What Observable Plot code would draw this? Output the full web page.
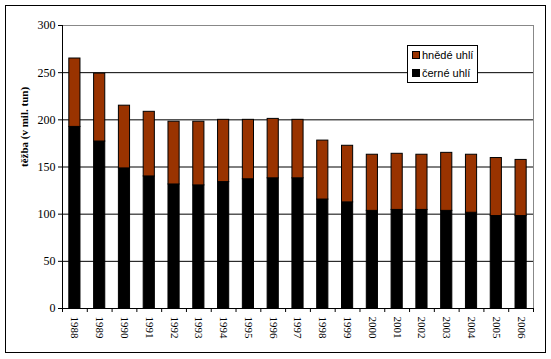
<!DOCTYPE html>
<html>
<head>
<meta charset="utf-8">
<script src="https://cdn.jsdelivr.net/npm/d3@7"></script>
<script src="https://cdn.jsdelivr.net/npm/@observablehq/plot@0.6"></script>
<style>
  body { margin: 0; background: #fff; }
  #wrap { position: relative; width: 551px; height: 359px; overflow: hidden; }
  #border { position: absolute; left: 5px; top: 5px; width: 539px; height: 346px; border: 1px solid #000; }
  #chart { position: absolute; left: 0; top: 0; }
  #legend { position: absolute; left: 407px; top: 45px; width: 69px; height: 36px; border: 1px solid #000; background: #fff;
            font-family: "Liberation Sans", Arial, sans-serif; font-size: 11px; color: #000; }
  .item { position: absolute; left: 4px; height: 14px; line-height: 14px; white-space: nowrap; }
  .sw { display: inline-block; width: 6px; height: 6px; border: 1px solid #000; margin-right: 2px; vertical-align: 0px; }
</style>
</head>
<body>
<div id="wrap">
  <div id="border"></div>
  <div id="chart"></div>
  <div id="legend"></div>
</div>
<script>
const years = ["1988","1989","1990","1991","1992","1993","1994","1995","1996","1997","1998","1999","2000","2001","2002","2003","2004","2005","2006"];
const cerneUhli = [192.5, 177, 148.5, 140, 131.5, 130.5, 134, 137, 138, 138, 115.5, 112.5, 103.5, 104.5, 104.5, 103.5, 101.5, 98, 98];
const hnedeUhli = [72.5, 72, 66.5, 68.5, 66.5, 67.5, 66, 63, 63, 62, 62.5, 60, 59.5, 59.5, 58.5, 61.5, 61.5, 61.5, 59.5];
const seriesNames = ["hnědé uhlí", "černé uhlí"];
const seriesColors = ["#993300", "#000000"];
const yTicks = [0, 50, 100, 150, 200, 250, 300];
const yTitle = "těžba (v mil. tun)";

const rows = [];
years.forEach((y, i) => {
  rows.push({year: y, series: seriesNames[1], value: cerneUhli[i]});
  rows.push({year: y, series: seriesNames[0], value: hnedeUhli[i]});
});

const W = 551, H = 359, ml = 62, mr = 18, mt = 25, mb = 51;
const pad = 0.55;
const step = (W - ml - mr) / years.length;
const extra = step * pad / 2;
const serif = "'Liberation Serif', 'Times New Roman', serif";

const chart = Plot.plot({
  width: W, height: H,
  marginLeft: ml, marginRight: mr, marginTop: mt, marginBottom: mb,
  style: {background: "transparent", fontFamily: serif, color: "#000"},
  x: {domain: years, padding: pad, round: false, insetLeft: -extra, insetRight: -extra, label: null},
  y: {domain: [0, 300], label: null},
  color: {domain: seriesNames, range: seriesColors},
  marks: [
    Plot.gridY(yTicks.filter(d => d > 0 && d < 300), {stroke: "#000", strokeOpacity: 1}),
    Plot.ruleY([300], {stroke: "#888"}),
    Plot.ruleX([years[years.length - 1]], {dx: step / 2, stroke: "#888"}),
    Plot.barY(rows, Plot.stackY({x: "year", y: "value", fill: "series", order: [seriesNames[1], seriesNames[0]], stroke: "#000", strokeWidth: 1})),
    Plot.ruleX([years[0]], {dx: -step / 2, stroke: "#000"}),
    Plot.ruleY([0], {stroke: "#000"}),
    Plot.axisY({ticks: yTicks, tickSize: 4, tickPadding: 3, fontSize: 12, fontFamily: serif, label: null}),
    Plot.axisX({tickSize: 4, dx: step / 2, tickFormat: () => "", label: null}),
    Plot.axisX({ticks: [years[0]], tickSize: 4, dx: -step / 2, tickFormat: () => "", label: null}),
    Plot.axisX({tickSize: 0, tickRotate: 90, tickPadding: 8, fontSize: 11, fontFamily: serif, label: null}),
    Plot.text([yTitle], {frameAnchor: "left", rotate: -90, dx: -38, fontWeight: "bold", fontSize: 11, fontFamily: serif})
  ]
});
document.getElementById("chart").appendChild(chart);

const legend = document.getElementById("legend");
seriesNames.forEach((name, i) => {
  const it = document.createElement("div");
  it.className = "item";
  it.style.top = (2 + i * 18) + "px";
  const sw = document.createElement("span");
  sw.className = "sw";
  sw.style.background = seriesColors[i];
  it.appendChild(sw);
  it.appendChild(document.createTextNode(name));
  legend.appendChild(it);
});
</script>
</body>
</html>
